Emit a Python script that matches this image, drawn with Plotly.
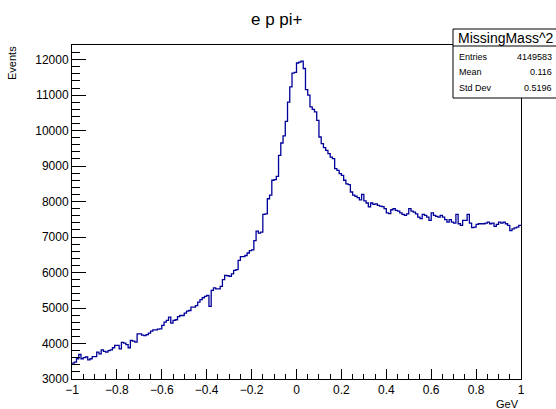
import numpy as np
import plotly.graph_objects as go

# Histogram definition (200 bins from -1 to 1 GeV)
x_low, x_high = -1.0, 1.0
counts = [
    3450, 3475, 3570, 3690, 3570, 3600, 3620, 3540, 3570, 3630,
    3630, 3760, 3710, 3820, 3780, 3760, 3800, 3820, 3880, 3945,
    3945, 3850, 4030, 4010, 3970, 3880, 4085, 4065, 4040, 4270,
    4270, 4235, 4225, 4250, 4290, 4350, 4385, 4385, 4405, 4415,
    4510, 4600, 4650, 4745, 4575, 4650, 4670, 4760, 4790, 4790,
    4855, 4910, 4930, 5025, 5025, 5070, 5165, 5235, 5290, 5330,
    5355, 5045, 5495, 5570, 5540, 5540, 5610, 5800, 5920, 5910,
    5890, 5965, 6060, 6080, 6340, 6450, 6450, 6480, 6550, 6620,
    6640, 6900, 7165, 7110, 7140, 7640, 7655, 8080, 8180, 8600,
    8620, 8710, 9300, 9650, 9850, 10260, 10800, 11230, 11620, 11640,
    11905, 11930, 11960, 11750, 11155, 11000, 10670, 10600, 10530, 10290,
    9820, 9630, 9520, 9440, 9350, 9250, 9210, 8930, 8880, 8790,
    8740, 8600, 8500, 8480, 8270, 8180, 8150, 8110, 8050, 8200,
    8020, 7960, 7850, 7960, 7920, 7935, 7890, 7870, 7860, 7800,
    7680, 7660, 7770, 7800, 7750, 7730, 7680, 7640, 7610, 7655,
    7800, 7730, 7700, 7655, 7560, 7520, 7640, 7610, 7560, 7470,
    7680, 7610, 7580, 7560, 7610, 7560, 7490, 7420, 7490, 7420,
    7390, 7640, 7375, 7330, 7470, 7470, 7640, 7390, 7265, 7280,
    7355, 7375, 7375, 7375, 7390, 7420, 7375, 7390, 7300, 7355,
    7420, 7390, 7420, 7375, 7330, 7180, 7230, 7260, 7280, 7330,
]
y_range = [3000, 12412]
y_ticks = [3000, 4000, 5000, 6000, 7000, 8000, 9000, 10000, 11000, 12000]
y_tick_text = [str(v) for v in y_ticks]
x_ticks = [-1, -0.8, -0.6, -0.4, -0.2, 0, 0.2, 0.4, 0.6, 0.8, 1]
x_tick_text = ["\u22121", "\u22120.8", "\u22120.6", "\u22120.4", "\u22120.2", "0", "0.2", "0.4", "0.6", "0.8", "1"]

title_text = "e p pi+"
x_title = "GeV"
y_title = "Events"
stat_name = "MissingMass^2"
stat_labels = ["Entries", "Mean", "Std Dev"]
stat_values = ["4149583", "0.116", "0.5196"]

n = len(counts)
edges = np.linspace(x_low, x_high, n + 1)
ys = list(counts) + [counts[-1]]

FONT = "Liberation Sans, Arial, sans-serif"
BLUE = "#000099"

fig = go.Figure()
fig.add_trace(go.Scatter(x=edges, y=ys, mode="lines", line=dict(shape="hv", color=BLUE, width=1.3),
                         hoverinfo="skip", showlegend=False))

# plot area in pixels
L, R, T, B = 72, 521, 45, 379
W, H = 556, 409

def px(xp):
    return (xp - L) / (R - L)

def py(yp):
    return (B - yp) / (B - T)

fig.update_layout(
    width=W, height=H,
    margin=dict(l=L, r=W - R, t=T, b=H - B),
    paper_bgcolor="white", plot_bgcolor="white",
    font=dict(family=FONT, color="black", size=12),
    showlegend=False,
)
fig.update_xaxes(
    range=[x_low, x_high], tickvals=x_ticks, ticktext=x_tick_text,
    ticks="inside", ticklen=10, tickwidth=1, tickcolor="black",
    minor=dict(ticks="inside", dtick=0.05, tick0=-1, ticklen=5, tickcolor="black", tickwidth=1),
    showline=True, linecolor="black", linewidth=1, mirror=True,
    showgrid=False, zeroline=False, tickfont=dict(size=12, family=FONT),
)
fig.update_yaxes(
    range=y_range, tickvals=y_ticks, ticktext=y_tick_text,
    ticks="inside", ticklen=14, tickwidth=1, tickcolor="black",
    minor=dict(ticks="inside", dtick=200, tick0=3000, ticklen=8, tickcolor="black", tickwidth=1),
    showline=True, linecolor="black", linewidth=1, mirror=True,
    showgrid=False, zeroline=False, tickfont=dict(size=12, family=FONT),
)

annotations = [
    dict(text=title_text, x=px(277), y=py(20), xref="paper", yref="paper",
         showarrow=False, font=dict(size=17, family=FONT), xanchor="center", yanchor="middle"),
    dict(text=x_title, x=px(521), y=py(404), xref="paper", yref="paper",
         showarrow=False, font=dict(size=11, family=FONT), xanchor="right", yanchor="middle"),
    dict(text=y_title, x=px(20), y=py(44), xref="paper", yref="paper", textangle=-90,
         showarrow=False, font=dict(size=11, family=FONT), xanchor="right", yanchor="top"),
    dict(text=stat_name, x=px(456), y=py(38), xref="paper", yref="paper",
         showarrow=False, font=dict(size=14, family=FONT), xanchor="left", yanchor="middle"),
]
row_y = [57, 72, 88]
for lab, val, ry in zip(stat_labels, stat_values, row_y):
    annotations.append(dict(text=lab, x=px(457), y=py(ry), xref="paper", yref="paper",
                            showarrow=False, font=dict(size=9, family=FONT), xanchor="left", yanchor="middle"))
    annotations.append(dict(text=val, x=px(554), y=py(ry), xref="paper", yref="paper",
                            showarrow=False, font=dict(size=9, family=FONT), xanchor="right", yanchor="middle"))
fig.update_layout(annotations=annotations)

fig.update_layout(shapes=[
    dict(type="rect", xref="paper", yref="paper", x0=px(453), x1=px(620), y0=py(98), y1=py(29),
         fillcolor="white", line=dict(color="black", width=1), layer="above"),
    dict(type="line", xref="paper", yref="paper", x0=px(453), x1=px(620), y0=py(46), y1=py(46),
         line=dict(color="black", width=1), layer="above"),
])

fig.write_html("out.html", config={"displayModeBar": False},
               post_script="document.body.style.margin='0';document.body.style.overflow='hidden';")
